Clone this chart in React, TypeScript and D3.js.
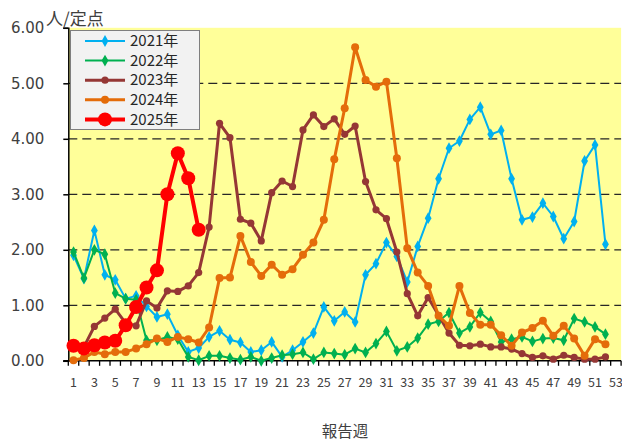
import * as d3 from "d3";
import React, { useEffect, useRef } from "react";

// weekly rate per sentinel site
const weeks = d3.range(1, 54);
const xLabels = weeks.filter((w) => w % 2 === 1);
const yTicks = [0, 1, 2, 3, 4, 5, 6];

const y2021 = [1.9, 1.48, 2.35, 1.55, 1.46, 1.12, 1.17, 0.98, 0.79, 0.84, 0.46, 0.16, 0.23, 0.43, 0.54, 0.38, 0.33, 0.16, 0.19, 0.34, 0.07, 0.19, 0.34, 0.5, 0.97, 0.72, 0.88, 0.7, 1.55, 1.75, 2.13, 1.88, 1.42, 2.06, 2.57, 3.28, 3.83, 3.96, 4.35, 4.57, 4.08, 4.15, 3.28, 2.54, 2.59, 2.84, 2.6, 2.2, 2.51, 3.6, 3.89, 2.1];
const y2022 = [1.96, 1.49, 2.0, 1.92, 1.22, 1.12, 1.1, 0.37, 0.37, 0.43, 0.39, 0.07, 0.01, 0.09, 0.09, 0.05, 0.02, 0.07, 0.0, 0.05, 0.1, 0.12, 0.15, 0.03, 0.15, 0.13, 0.11, 0.22, 0.15, 0.31, 0.53, 0.18, 0.25, 0.41, 0.66, 0.71, 0.87, 0.5, 0.61, 0.87, 0.71, 0.34, 0.39, 0.43, 0.35, 0.4, 0.41, 0.37, 0.76, 0.7, 0.61, 0.48];
const y2023 = [0.25, 0.25, 0.62, 0.77, 0.93, 0.68, 0.63, 1.08, 0.95, 1.26, 1.25, 1.35, 1.59, 2.41, 4.28, 4.02, 2.55, 2.48, 2.16, 3.03, 3.24, 3.14, 4.16, 4.43, 4.22, 4.36, 4.08, 4.23, 3.23, 2.72, 2.56, 1.96, 1.21, 0.81, 1.14, 0.82, 0.5, 0.28, 0.27, 0.3, 0.25, 0.25, 0.21, 0.13, 0.06, 0.09, 0.03, 0.1, 0.06, 0.03, 0.03, 0.07];
const y2024 = [0.01, 0.05, 0.16, 0.12, 0.16, 0.16, 0.22, 0.3, 0.4, 0.34, 0.43, 0.39, 0.33, 0.6, 1.49, 1.5, 2.25, 1.78, 1.53, 1.73, 1.55, 1.65, 1.91, 2.13, 2.54, 3.63, 4.55, 5.65, 5.06, 4.94, 5.03, 3.65, 2.03, 1.59, 1.35, 0.81, 0.63, 1.35, 0.86, 0.65, 0.65, 0.46, 0.27, 0.51, 0.59, 0.72, 0.45, 0.63, 0.4, 0.09, 0.39, 0.3];
const y2025 = [0.27, 0.22, 0.28, 0.33, 0.36, 0.64, 0.97, 1.32, 1.63, 3.0, 3.74, 3.29, 2.36];

interface Series {
  label: string;
  data: number[];
  color: string;
  width: number;
  marker: "diamond" | "circle";
  size: number;
}

const series: Series[] = [
  { label: "2021年", data: y2021, color: "#00b0f0", width: 2, marker: "diamond", size: 4 },
  { label: "2022年", data: y2022, color: "#00b050", width: 2, marker: "diamond", size: 4 },
  { label: "2023年", data: y2023, color: "#953735", width: 3, marker: "circle", size: 3.6 },
  { label: "2024年", data: y2024, color: "#e46c0a", width: 3, marker: "circle", size: 4 },
  { label: "2025年", data: y2025, color: "#ff0000", width: 4, marker: "circle", size: 7 },
];

const width = 622;
const height = 443;
const plot = { left: 68.3, right: 621.1, top: 27.8, bottom: 360.8 };
const textColor = "#404040";

const App: React.FC = () => {
  const svgRef = useRef<SVGSVGElement>(null);

  useEffect(() => {
    if (!svgRef.current) return;
    const svg = d3.select(svgRef.current);
    svg.selectAll("*").remove();

    const x = d3
      .scaleBand<number>()
      .domain(weeks)
      .range([plot.left, plot.right])
      .padding(0);
    const cx = (w: number) => (x(w) || 0) + x.bandwidth() / 2;
    const y = d3.scaleLinear().domain([0, 6]).range([plot.bottom, plot.top]);

    // plot background
    svg
      .append("rect")
      .attr("x", plot.left)
      .attr("y", plot.top)
      .attr("width", plot.right - plot.left)
      .attr("height", plot.bottom - plot.top)
      .attr("fill", "#ffff99");

    // dashed grid
    svg
      .append("g")
      .selectAll("line")
      .data(yTicks.filter((t) => t > 0 && t < 6))
      .join("line")
      .attr("x1", plot.left)
      .attr("x2", plot.right)
      .attr("y1", (d) => y(d))
      .attr("y2", (d) => y(d))
      .attr("stroke", "#262626")
      .attr("stroke-width", 1.2)
      .attr("stroke-dasharray", "9,5");

    // y axis
    const yAxis = svg
      .append("g")
      .attr("transform", `translate(${plot.left},0)`)
      .call(
        d3
          .axisLeft(y)
          .tickValues(yTicks)
          .tickSize(5)
          .tickPadding(19)
          .tickFormat(d3.format(".2f")),
      );
    yAxis.select(".domain").attr("stroke", "#000").attr("stroke-width", 1.5);
    yAxis.selectAll(".tick line").attr("stroke", "#000").attr("stroke-width", 1.5);
    yAxis
      .selectAll(".tick text")
      .attr("fill", textColor)
      .style("font-family", "'DejaVu Sans', Verdana, sans-serif")
      .style("font-size", "15px");

    // x axis: ticks between categories, labels on odd weeks
    const xg = svg.append("g");
    xg.selectAll("line.tk")
      .data(d3.range(0, weeks.length + 1))
      .join("line")
      .attr("class", "tk")
      .attr("x1", (i) => plot.left + i * x.step())
      .attr("x2", (i) => plot.left + i * x.step())
      .attr("y1", plot.bottom)
      .attr("y2", plot.bottom + 5)
      .attr("stroke", "#000")
      .attr("stroke-width", 1.3);
    xg.append("line")
      .attr("x1", plot.left - 5)
      .attr("x2", plot.right)
      .attr("y1", plot.bottom)
      .attr("y2", plot.bottom)
      .attr("stroke", "#000")
      .attr("stroke-width", 1.5);
    xg.selectAll("text")
      .data(xLabels)
      .join("text")
      .attr("x", (d) => cx(d))
      .attr("y", 387)
      .attr("text-anchor", "middle")
      .attr("fill", textColor)
      .style("font-family", "'Noto Sans CJK JP', sans-serif")
      .style("font-size", "12.5px")
      .text((d) => d);

    // lines + markers
    const line = d3
      .line<number>()
      .x((d, i) => cx(weeks[i]))
      .y((d) => y(d));

    const drawMarker = (
      g: d3.Selection<SVGGElement, unknown, null, undefined>,
      s: Series,
      px: number,
      py: number,
    ) => {
      if (s.marker === "circle") {
        g.append("circle").attr("cx", px).attr("cy", py).attr("r", s.size).attr("fill", s.color);
      } else {
        g.append("path")
          .attr("transform", `translate(${px},${py})`)
          .attr("d", d3.symbol(d3.symbolDiamond, 40)() || "")
          .attr("fill", s.color);
      }
    };

    series.forEach((s) => {
      const g = svg.append("g");
      g.append("path")
        .attr("d", line(s.data) || "")
        .attr("fill", "none")
        .attr("stroke", s.color)
        .attr("stroke-width", s.width)
        .attr("stroke-linejoin", "round");
      s.data.forEach((v, i) => drawMarker(g, s, cx(weeks[i]), y(v)));
    });

    // legend
    const lg = svg.append("g");
    lg.append("rect")
      .attr("x", 70.5)
      .attr("y", 30.5)
      .attr("width", 129)
      .attr("height", 99)
      .attr("fill", "#f2f2f2")
      .attr("stroke", "#7f7f7f")
      .attr("stroke-width", 1);
    series.forEach((s, i) => {
      const ly = 41 + i * 19.6;
      const row = lg.append("g");
      row
        .append("line")
        .attr("x1", 85)
        .attr("x2", 125)
        .attr("y1", ly)
        .attr("y2", ly)
        .attr("stroke", s.color)
        .attr("stroke-width", s.width);
      drawMarker(row, s, 105, ly);
      row
        .append("text")
        .attr("x", 130)
        .attr("y", ly)
        .attr("dy", "0.35em")
        .attr("fill", "#262626")
        .style("font-family", "'Noto Sans CJK JP', sans-serif")
        .style("font-size", "15px")
        .text(s.label);
    });

    // axis titles
    svg
      .append("text")
      .attr("x", 46)
      .attr("y", 25)
      .attr("fill", textColor)
      .style("font-family", "'Noto Sans CJK JP', sans-serif")
      .style("font-size", "17px")
      .text("人/定点");
    svg
      .append("text")
      .attr("x", 345)
      .attr("y", 437)
      .attr("text-anchor", "middle")
      .attr("fill", textColor)
      .style("font-family", "'Noto Sans CJK JP', sans-serif")
      .style("font-size", "15.5px")
      .text("報告週");
  }, []);

  return (
    <svg
      ref={svgRef}
      width={width}
      height={height}
      style={{ position: "absolute", left: 0, top: 0, background: "#fff" }}
    />
  );
};

export default App;
